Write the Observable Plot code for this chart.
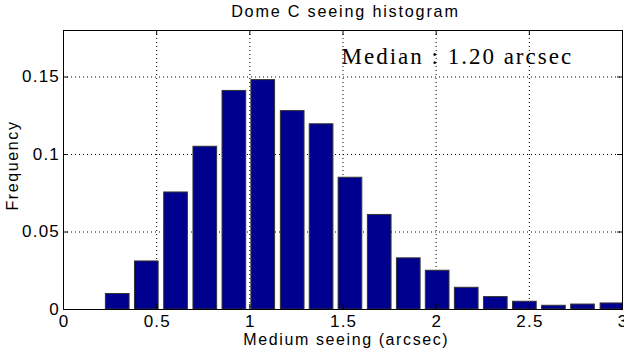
<!DOCTYPE html>
<html>
<head>
<meta charset="utf-8">
<script src="https://cdn.jsdelivr.net/npm/d3@7"></script>
<script src="https://cdn.jsdelivr.net/npm/@observablehq/plot@0.6"></script>
<style>
  html, body { margin: 0; padding: 0; background: #fff; }
  #chart svg { display: block; }
  g[font-size="16.2"] text { letter-spacing: 1.8px; }
  g[font-size="16"] text { letter-spacing: 1.6px; }
  g[font-size="17"] text { letter-spacing: 1.2px; }
  g[font-size="23"] text { letter-spacing: 2px; }
</style>
</head>
<body>
<div id="chart"></div>
<script>
// ---- data ----
const binCenters = [0.291, 0.447, 0.604, 0.761, 0.917, 1.072, 1.230, 1.385, 1.540,
                    1.697, 1.853, 2.008, 2.164, 2.320, 2.476, 2.632, 2.788, 2.946];
const frequencies = [0.010, 0.031, 0.0755, 0.105, 0.141, 0.148, 0.128, 0.1195, 0.085,
                     0.061, 0.033, 0.025, 0.014, 0.008, 0.005, 0.0024, 0.0032, 0.0039];
const xTicks = [0, 0.5, 1, 1.5, 2, 2.5, 3];
const xTickLabels = ["0", "0.5", "1", "1.5", "2", "2.5", "3"];
const yTicks = [0, 0.05, 0.1, 0.15];
const yTickLabels = ["0", "0.05", "0.1", "0.15"];
const titleText = "Dome C seeing histogram";
const xLabelText = "Medium seeing (arcsec)";
const yLabelText = "Frequency";
const medianText = "Median : 1.20 arcsec";

// ---- layout ----
const W = 624, H = 357;
const mL = 63, mR = 2, mT = 30, mB = 48;
const plotW = W - mL - mR, plotH = H - mT - mB;
const barWidth = 0.127;
const tickLen = 5;

const bars = binCenters.map((c, i) => ({c, f: frequencies[i]}));
const xT = xTicks.map((v, i) => ({v, label: xTickLabels[i]}));
const yT = yTicks.map((v, i) => ({v, label: yTickLabels[i]}));

const sans = "Liberation Sans, Arial, Helvetica, sans-serif";
const serif = "Liberation Serif, Times New Roman, serif";

const chart = Plot.plot({
  width: W, height: H,
  marginLeft: mL, marginRight: mR, marginTop: mT, marginBottom: mB,
  x: {domain: [0, 3], axis: null},
  y: {domain: [0, 0.18], axis: null},
  style: {background: "#fff", fontFamily: sans},
  marks: [
    // dotted grid
    Plot.ruleX(xT, {x: "v", stroke: "#000", strokeWidth: 1, strokeDasharray: "1,3"}),
    Plot.ruleY(yT, {y: "v", stroke: "#000", strokeWidth: 1, strokeDasharray: "1,3"}),
    // bars
    Plot.rectY(bars, {
      x1: d => d.c - barWidth / 2, x2: d => d.c + barWidth / 2, y1: 0, y2: "f",
      fill: "#00008f", stroke: "#333", strokeWidth: 1, clip: true
    }),
    // inward ticks
    Plot.tickX(xT, {x: "v", stroke: "#000", insetTop: plotH - tickLen}),
    Plot.tickX(xT, {x: "v", stroke: "#000", insetBottom: plotH - tickLen}),
    Plot.tickY(yT, {y: "v", stroke: "#000", insetRight: plotW - tickLen}),
    Plot.tickY(yT, {y: "v", stroke: "#000", insetLeft: plotW - tickLen}),
    Plot.frame({stroke: "#000", strokeWidth: 1}),
    // tick labels
    Plot.text(xT, {x: "v", text: "label", frameAnchor: "bottom", lineAnchor: "top",
      dy: 5, dx: 0.6, fontSize: 17, fontFamily: sans, fill: "#000"}),
    Plot.text(yT, {y: "v", text: "label", frameAnchor: "left", textAnchor: "end",
      lineAnchor: "middle", dx: -3.5, fontSize: 17, fontFamily: sans, fill: "#000"}),
    // title & axis labels
    Plot.text([titleText], {text: d => d, frameAnchor: "top", textAnchor: "middle", lineAnchor: "bottom",
      dy: -13.3, dx: 2.4, fontSize: 16.2, fontFamily: sans, fill: "#000"}),
    Plot.text([xLabelText], {text: d => d, frameAnchor: "bottom", textAnchor: "middle", lineAnchor: "bottom",
      dy: 35, dx: 3.3, fontSize: 16, fontFamily: sans, fill: "#000"}),
    Plot.text([yLabelText], {text: d => d, frameAnchor: "left", textAnchor: "middle", lineAnchor: "bottom",
      rotate: -90, dx: -46, dy: -4.5, fontSize: 16, fontFamily: sans, fill: "#000"}),
    // annotation
    Plot.text([medianText], {text: d => d, frameAnchor: "top-left", textAnchor: "start",
      lineAnchor: "bottom", dx: 278, dy: 33.3, fontSize: 23, fontFamily: serif, fill: "#000"})
  ]
});
document.getElementById("chart").appendChild(chart);
</script>
</body>
</html>
